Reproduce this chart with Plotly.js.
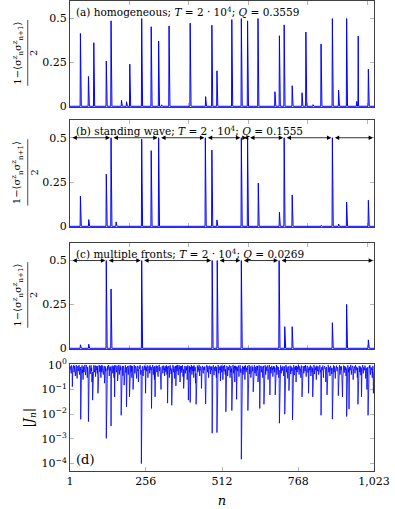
<!DOCTYPE html>
<html>
<head>
<meta charset="utf-8">
<script src="https://cdn.plot.ly/plotly-3.0.1.min.js"></script>
<style>body{margin:0;background:#fff}</style>
</head>
<body>
<div id="chart" style="width:395px;height:509px"></div>
<script>
// spike positions n and heights of (1 - <s_n s_n+1>)/2
var nA = [36,63,81,123,139,174,191,202,242,274,299,309,334,405,457,478,495,545,577,598,633,690,705,721,748,781,794,818,845,883,904,931,965,970,1004];
var hA = [0.415,0.17,0.362,0.258,0.487,0.034,0.026,0.24,0.5,0.453,0.372,0.008,0.458,0.474,0.055,0.462,0.202,0.494,0.5,0.487,0.5,0.083,0.402,0.464,0.117,0.077,0.423,0.009,0.355,0.5,0.092,0.5,0.028,0.4,0.211];

var nB = [36,64,123,139,156,242,274,299,456,478,495,577,598,634,705,721,748,846,883,904,931,1004];
var hB = [0.17,0.038,0.294,0.5,0.025,0.492,0.427,0.5,0.5,0.43,0.036,0.5,0.5,0.244,0.08,0.5,0.177,0.006,0.5,0.013,0.137,0.147];
var frontsB = [1,139,299,456,577,598,721,883,1023];

var nC = [36,64,123,139,242,275,479,496,577,704,723,748,846,883,931,1004];
var hC = [0.02,0.023,0.5,0.338,0.5,0.004,0.5,0.5,0.5,0.5,0.123,0.123,0.004,0.146,0.25,0.048];
var frontsC = [1,123,242,479,496,577,704,1023];

// |J_n| for odd n = 1, 3, ..., 1023
var Jodd = [
.62,.85,.45,.9,.13,.7,.95,.5,.8,.35,.92,.6,.28,.88,.55,.97,.4,.75,.0062,.66,.9,.48,.25,.82,.58,.99,.38,.7,.88,.3,.6,.005,
.72,.93,.42,.8,.55,.2,.037,.68,.96,.5,.83,.33,.9,.62,.45,.07,.78,.98,.52,.87,.3,.7,.94,.6,.4,.85,.18,.75,.55,.00105,.5,.9,
.66,.97,.35,.8,.58,.0033,.7,.92,.45,.85,.3,.05,.75,.95,.5,.88,.22,.68,.99,.4,.8,.6,.009,.55,.9,.36,.78,.15,.65,.96,.48,.02,
.7,.9,.4,.83,.05,.6,.95,.52,.3,.86,.1,.72,.98,.45,.8,.62,.28,.9,.55,.2,.85,.68,.97,.4,.0001,.5,.88,.35,.75,.93,.6,.07,
.8,.55,.95,.3,.7,.9,.45,.85,.6,.017,.72,.98,.4,.82,.25,.05,.65,.92,.5,.87,.33,.76,.99,.58,.2,.1,.7,.9,.45,.8,.62,.35,
.88,.52,.95,.4,.028,.68,.9,.3,.8,.6,.42,.023,.75,.97,.5,.85,.28,.7,.14,.92,.55,.99,.38,.8,.65,.2,.9,.48,.78,.96,.33,.11,
.7,.9,.45,.85,.6,.25,.95,.037,.72,.5,.03,.82,.98,.4,.66,.88,.3,.75,.55,.18,.025,.8,.93,.5,.7,.99,.35,.6,.85,.11,.72,.9,
.45,.8,.62,.2,.026,.75,.96,.5,.88,.3,.7,.92,.42,.85,.6,.0017,.65,.95,.38,.8,.55,.9,.3,.0018,.7,.98,.45,.82,.6,.22,.93,.5,
.78,.25,.9,.55,.97,.4,.0125,.7,.88,.35,.8,.6,.95,.3,.72,.5,.014,.85,.99,.45,.75,.2,.9,.62,.04,.8,.55,.93,.33,.7,.96,.48,
.00015,.66,.9,.4,.82,.6,.25,.95,.5,.75,.88,.014,.7,.98,.42,.85,.3,.65,.92,.55,.08,.78,.97,.45,.8,.35,.9,.6,.2,.72,.95,.017,
.68,.9,.5,.85,.3,.75,.025,.6,.96,.4,.82,.55,.93,.25,.7,.99,.06,.8,.45,.9,.62,.33,.88,.7,.5,.06,.78,.97,.4,.85,.6,.3,
.0043,.72,.95,.45,.8,.58,.9,.35,.7,.01,.65,.98,.5,.83,.28,.75,.09,.6,.92,.42,.85,.55,.0058,.7,.96,.38,.8,.62,.2,.9,.5,.78,
.99,.4,.85,.6,.3,.93,.05,.7,.88,.45,.8,.55,.97,.33,.72,.9,.48,.07,.82,.6,.95,.35,.75,.5,.05,.88,.98,.42,.78,.62,.25,.92,
.55,.85,.4,.7,.96,.5,.009,.8,.6,.93,.3,.72,.88,.45,.2,.82,.06,.65,.99,.5,.78,.35,.9,.6,.42,.0063,.75,.95,.5,.85,.28,.7,
.92,.55,.8,.056,.66,.97,.4,.85,.6,.3,.05,.78,.93,.48,.88,.62,.35,.008,.7,.95,.5,.016,.82,.6,.99,.4,.75,.9,.25,.68,.85,.45,
.96,.6,.8,.3,.025,.72,.9,.5,.85,.38,.05,.7,.98,.45,.8,.6,.92,.28,.75,.1,.66,.009,.55,.88,.97,.4,.8,.62,.3,.9,.07,.5
];

// |J_n| for even n = 2, 4, ..., 1022
var Jeven = [
.8,.6,.95,.7,.5,.88,.65,.9,.55,.75,.98,.45,.7,.85,.6,.92,.5,.8,.2,.7,.95,.62,.85,.5,.9,.7,.55,.96,.65,.8,.45,.3,
.9,.7,.6,.95,.75,.5,.15,.85,.7,.62,.93,.55,.8,.7,.9,.25,.65,.88,.75,.6,.95,.5,.8,.7,.58,.9,.45,.85,.7,.05,.75,.6,
.92,.8,.6,.7,.85,.2,.9,.65,.75,.55,.95,.3,.8,.7,.6,.9,.5,.85,.7,.62,.93,.78,.1,.8,.6,.88,.7,.45,.95,.65,.8,.12,
.85,.6,.78,.92,.3,.75,.65,.9,.55,.8,.35,.95,.7,.6,.88,.5,.75,.9,.65,.4,.8,.95,.7,.6,.05,.82,.7,.6,.9,.75,.85,.3,
.6,.9,.7,.55,.85,.75,.95,.6,.8,.1,.9,.7,.65,.55,.88,.3,.8,.7,.9,.6,.75,.95,.55,.8,.4,.35,.85,.7,.6,.92,.75,.55,
.7,.9,.6,.85,.15,.8,.7,.55,.95,.75,.65,.1,.9,.6,.8,.7,.55,.9,.35,.75,.85,.6,.7,.95,.8,.5,.7,.88,.6,.75,.65,.3,
.9,.75,.65,.6,.85,.5,.7,.12,.9,.8,.15,.65,.75,.85,.55,.7,.95,.6,.8,.45,.1,.9,.7,.8,.6,.75,.65,.85,.7,.3,.9,.6,
.75,.65,.85,.5,.1,.9,.7,.8,.6,.75,.9,.65,.8,.7,.85,.02,.9,.75,.6,.7,.85,.65,.8,.02,.9,.6,.75,.7,.85,.55,.7,.9,
.6,.5,.75,.85,.7,.65,.05,.9,.75,.6,.7,.85,.8,.65,.9,.7,.05,.75,.6,.8,.9,.5,.7,.85,.2,.65,.8,.7,.6,.9,.75,.7,
.004,.85,.7,.65,.75,.9,.55,.8,.7,.6,.9,.07,.85,.75,.65,.7,.6,.9,.75,.8,.3,.65,.85,.7,.6,.75,.8,.9,.55,.85,.7,.1,
.85,.7,.75,.6,.65,.9,.12,.8,.7,.75,.6,.9,.7,.55,.85,.75,.25,.7,.65,.8,.75,.6,.7,.85,.75,.2,.9,.6,.75,.7,.8,.6,
.03,.85,.7,.65,.75,.8,.7,.6,.85,.06,.8,.7,.75,.6,.65,.85,.3,.75,.7,.65,.8,.75,.03,.85,.7,.6,.75,.9,.5,.7,.8,.65,
.75,.7,.8,.65,.55,.85,.2,.75,.7,.65,.9,.75,.6,.7,.85,.75,.7,.25,.8,.75,.6,.7,.85,.75,.2,.7,.8,.65,.75,.85,.55,.7,
.8,.7,.65,.85,.75,.6,.04,.7,.85,.75,.65,.8,.7,.75,.5,.7,.25,.85,.75,.7,.65,.75,.8,.7,.75,.03,.8,.7,.75,.65,.6,.85,
.7,.75,.65,.2,.8,.75,.7,.6,.85,.75,.25,.7,.8,.75,.65,.8,.7,.04,.85,.75,.7,.08,.75,.8,.7,.65,.85,.75,.55,.8,.7,.75,
.7,.8,.65,.75,.12,.8,.75,.7,.65,.75,.25,.8,.7,.75,.65,.8,.75,.6,.7,.5,.8,.05,.7,.75,.8,.65,.75,.7,.6,.8,.3
];

var blue = '#0000ff';
var font = 'DejaVu Serif';

function spikeSeries(ns, hs) {
  var x = [], y = [];
  for (var n = 1; n <= 1023; n++) { x.push(n); y.push(0); }
  for (var k = 0; k < ns.length; k++) y[ns[k] - 1] = hs[k];
  return {x: x, y: y};
}

var sA = spikeSeries(nA, hA), sB = spikeSeries(nB, hB), sC = spikeSeries(nC, hC);

// interleave odd and even sites into one series over n
var nJ = [], J = [];
for (var k = 0; k < Jodd.length; k++) {
  nJ.push(2 * k + 1); J.push(Jodd[k]);
  if (k < Jeven.length) { nJ.push(2 * k + 2); J.push(Jeven[k]); }
}

var data = [
  {x: sA.x, y: sA.y, xaxis: 'x', yaxis: 'y', mode: 'lines', line: {color: blue, width: 1}},
  {x: sB.x, y: sB.y, xaxis: 'x2', yaxis: 'y2', mode: 'lines', line: {color: blue, width: 1}},
  {x: sC.x, y: sC.y, xaxis: 'x3', yaxis: 'y3', mode: 'lines', line: {color: blue, width: 1}},
  {x: nJ, y: J, xaxis: 'x4', yaxis: 'y4', mode: 'lines', line: {color: blue, width: 0.8}}
];

var frame = {
  showline: true, linecolor: '#404040', linewidth: 1, mirror: 'ticks',
  ticks: 'inside', tickcolor: '#b5b5b5', ticklen: 4, tickwidth: 1,
  showgrid: false, zeroline: false, layer: 'below traces',
  tickfont: {family: font, size: 11, color: '#000'}
};
function ax(extra) { return Object.assign({}, frame, extra); }

var topX = {range: [1, 1023], tickvals: [200, 400, 600, 800, 1000], showticklabels: false};
var spikeY = {range: [-0.004, 0.6], tickvals: [0, 0.25, 0.5], ticktext: ['0', '0.25', '0.5']};

var layout = {
  width: 395, height: 509,
  margin: {l: 70, r: 21, t: 1, b: 38},
  paper_bgcolor: '#fff', plot_bgcolor: '#fff',
  showlegend: false,
  font: {family: font, color: '#000'},
  xaxis: ax(Object.assign({anchor: 'y'}, topX)),
  xaxis2: ax(Object.assign({anchor: 'y2'}, topX)),
  xaxis3: ax(Object.assign({anchor: 'y3'}, topX)),
  xaxis4: ax({anchor: 'y4', range: [1, 1023], tickvals: [1, 256, 512, 768, 1023],
    ticktext: ['1', '256', '512', '768', '1,023'],
    title: {text: '<i>n</i>', font: {family: font, size: 13}, standoff: 8}}),
  yaxis: ax(Object.assign({anchor: 'x', domain: [0.7745, 1]}, spikeY)),
  yaxis2: ax(Object.assign({anchor: 'x2', domain: [0.5191, 0.7468]}, spikeY)),
  yaxis3: ax(Object.assign({anchor: 'x3', domain: [0.2596, 0.4851]}, spikeY)),
  yaxis4: ax({anchor: 'x4', domain: [0, 0.2266], type: 'log', range: [-4.3, 0.01],
    tickvals: [1e-4, 1e-3, 1e-2, 1e-1, 1],
    ticktext: ['10<sup>−4</sup>', '10<sup>−3</sup>', '10<sup>−2</sup>', '10<sup>−1</sup>', '10<sup>0</sup>'],
    title: {text: '|<i>J<sub>n</sub></i>|', font: {family: font, size: 13}, standoff: 4}}),
  annotations: [],
  shapes: []
};

var labels = [
  '(a) homogeneous; <i>T</i> = 2 · 10<sup>4</sup>; <i>Q</i> = 0.3559',
  '(b) standing wave; <i>T</i> = 2 · 10<sup>4</sup>; <i>Q</i> = 0.1555',
  '(c) multiple fronts; <i>T</i> = 2 · 10<sup>4</sup>; <i>Q</i> = 0.0269'
];
var yn = ['y', 'y2', 'y3'];
for (var p = 0; p < 3; p++) {
  layout.annotations.push({
    text: labels[p], xref: 'paper', yref: yn[p] + ' domain', x: 0.013, y: 0.9,
    xanchor: 'left', yanchor: 'middle', showarrow: false,
    font: {family: font, size: 10.5}
  });
  // fraction y-label: numerator, bar, denominator
  layout.annotations.push({
    text: '1−⟨σ<sup>z</sup><sub>n</sub>σ<sup>z</sup><sub>n+1</sub>⟩', textangle: -90,
    xref: 'paper', yref: yn[p] + ' domain', x: -0.172, y: 0.51,
    xanchor: 'center', yanchor: 'middle', showarrow: false,
    font: {family: font, size: 10}
  });
  layout.annotations.push({
    text: '2', textangle: -90, xref: 'paper', yref: yn[p] + ' domain', x: -0.118, y: 0.51,
    xanchor: 'center', yanchor: 'middle', showarrow: false,
    font: {family: font, size: 10}
  });
  layout.shapes.push({
    type: 'line', xref: 'paper', yref: yn[p] + ' domain', x0: -0.139, x1: -0.139, y0: 0.2, y1: 0.82,
    line: {color: '#000', width: 0.7}
  });
}
layout.annotations.push({
  text: '(d)', xref: 'paper', yref: 'y4 domain', x: 0.013, y: 0.11,
  xanchor: 'left', yanchor: 'middle', showarrow: false, font: {family: font, size: 13}
});

function addArrows(fronts, xr, yr) {
  for (var k = 0; k < fronts.length - 1; k++) {
    layout.annotations.push({
      x: fronts[k + 1], y: 0.5, ax: fronts[k], ay: 0.5,
      xref: xr, yref: yr, axref: xr, ayref: yr,
      text: '', showarrow: true, arrowside: 'end+start',
      arrowhead: 2, startarrowhead: 2, arrowsize: 1.1, startarrowsize: 1.1,
      arrowwidth: 0.8, arrowcolor: '#000', standoff: 1, startstandoff: 1
    });
  }
}
addArrows(frontsB, 'x2', 'y2');
addArrows(frontsC, 'x3', 'y3');

Plotly.newPlot('chart', data, layout, {displayModeBar: false, staticPlot: true});
</script>
</body>
</html>
